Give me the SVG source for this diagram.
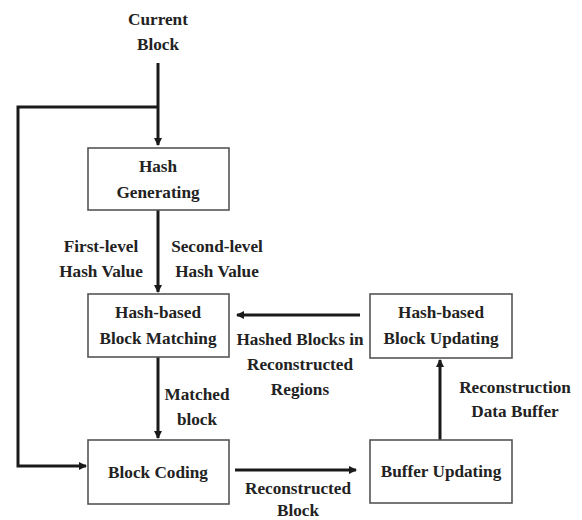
<svg xmlns="http://www.w3.org/2000/svg" width="582" height="520" viewBox="0 0 582 520">
<defs>
<marker id="ah" markerWidth="8" markerHeight="8" refX="7" refY="4" orient="auto" markerUnits="userSpaceOnUse" viewBox="0 0 8 8">
<path d="M0,0 L8,4 L0,8 z" fill="#1a1a1a"/>
</marker>
<style>
.box{fill:#fff;stroke:#555;stroke-width:1.6}
.t{font-family:'Liberation Serif','DejaVu Serif',serif;font-weight:bold;font-size:17.2px;fill:#222;text-anchor:middle}
.c{fill:none;stroke:#1a1a1a;stroke-width:3}
</style>
</defs>
<rect width="582" height="520" fill="#fff"/>
<g id="connectors">
<path class="c" d="M158,63 V145" marker-end="url(#ah)"/>
<path class="c" d="M158,107 H18 V466 H86" marker-end="url(#ah)"/>
<path class="c" d="M158,210 V292" marker-end="url(#ah)"/>
<path class="c" d="M158,357 V438" marker-end="url(#ah)"/>
<path class="c" d="M235,470 H356" marker-end="url(#ah)"/>
<path class="c" d="M440,440 V360" marker-end="url(#ah)"/>
<path class="c" d="M360,315 H237" marker-end="url(#ah)"/>
</g>
<g id="labels">
<text class="t" x="158" y="25">Current</text>
<text class="t" x="158" y="50">Block</text>
<text class="t" x="101" y="252">First-level</text>
<text class="t" x="101" y="277">Hash Value</text>
<text class="t" x="217" y="252">Second-level</text>
<text class="t" x="217" y="277">Hash Value</text>
<text class="t" x="197" y="400">Matched</text>
<text class="t" x="197" y="425">block</text>
<text class="t" x="300" y="345">Hashed Blocks in</text>
<text class="t" x="300" y="370">Reconstructed</text>
<text class="t" x="300" y="395">Regions</text>
<text class="t" x="515" y="393">Reconstruction</text>
<text class="t" x="515" y="417">Data Buffer</text>
<text class="t" x="298" y="494">Reconstructed</text>
<text class="t" x="298" y="516">Block</text>
</g>
<g id="hash-generating">
<rect class="box" x="88" y="148" width="141" height="62"/>
<text class="t" x="158" y="172">Hash</text>
<text class="t" x="158" y="198">Generating</text>
</g>
<g id="block-matching">
<rect class="box" x="88" y="294" width="141" height="63"/>
<text class="t" x="158" y="318">Hash-based</text>
<text class="t" x="158" y="344">Block Matching</text>
</g>
<g id="block-coding">
<rect class="box" x="88" y="440" width="141" height="64"/>
<text class="t" x="158" y="478">Block Coding</text>
</g>
<g id="buffer-updating">
<rect class="box" x="370" y="440" width="142" height="63"/>
<text class="t" x="441" y="477">Buffer Updating</text>
</g>
<g id="block-updating">
<rect class="box" x="370" y="294" width="142" height="64"/>
<text class="t" x="441" y="318">Hash-based</text>
<text class="t" x="441" y="344">Block Updating</text>
</g>
</svg>
